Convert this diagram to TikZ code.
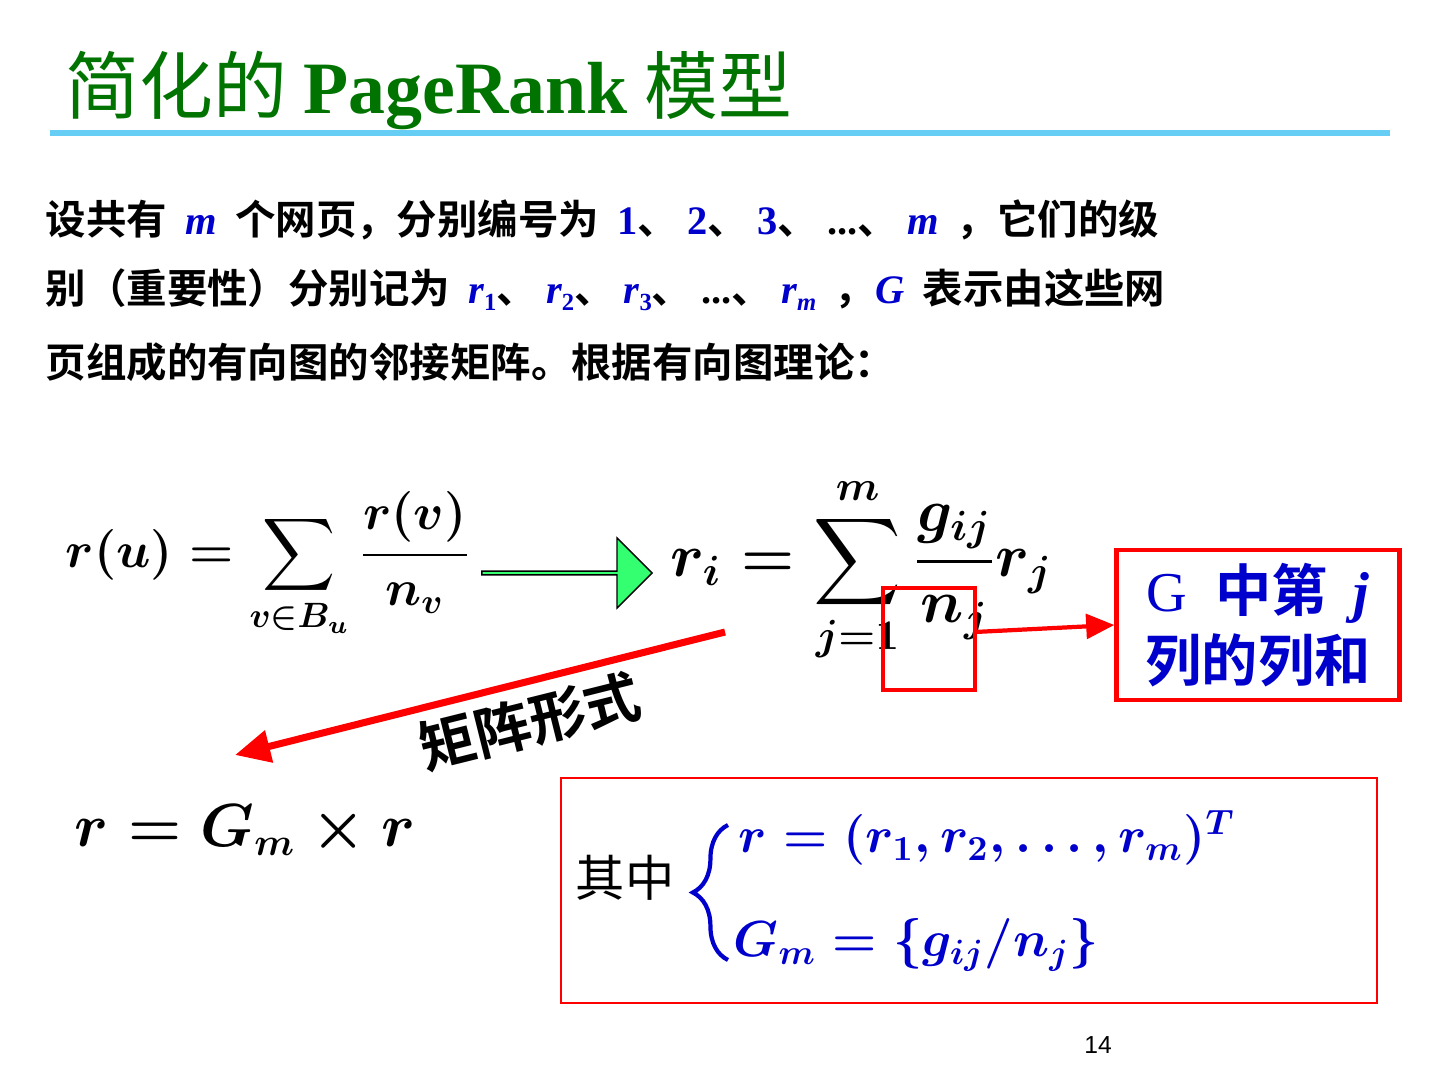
\documentclass[tikz,border=0pt]{standalone}
\usepackage{amsmath}
\usepackage{fontspec}
\setmainfont{Liberation Serif}
\newfontfamily\cjk{Noto Sans CJK SC}
\newfontfamily\cjkb{Noto Sans CJK SC Bold}
\newfontfamily\numfont{Liberation Sans}
\usetikzlibrary{arrows.meta,shapes.arrows,decorations.pathreplacing}
\newcommand{\bv}[1]{\textcolor{blue!80!black}{\rmfamily\bfseries\itshape #1}}
\newcommand{\bn}[1]{\textcolor{blue!80!black}{\rmfamily\bfseries #1}}
\newcommand{\sub}[1]{\raisebox{-0.3ex}{\scriptsize #1}}
\tikzset{
  line/.style={anchor=west, inner sep=0, font=\fontsize{11.5}{14}\cjkb},
  redbox/.style={draw=red, line width=1.2pt},
  formula/.style={inner sep=0, font=\fontsize{14}{17}\selectfont\boldmath}
}
\begin{document}
\begin{tikzpicture}[x=0.01cm,y=-0.01cm]
    \useasboundingbox (0,0) rectangle (1440,1080);
    % title
    \node (title) [anchor=west, inner sep=0, text=green!45!black] at (65,90)
      {\fontsize{21}{25}\cjk 简化的 \textbf{\rmfamily PageRank} 模型};
    \draw [cyan!60, line width=1.5pt] (50,133) -- (1390,133);
    % text
    \node (l1) [line] at (45,220) {设共有 \ \bv{m} \ 个网页，分别编号为 \ \bn{1}、\ \bn{2}、\ \bn{3}、\ \textbf{\rmfamily...}、\ \bv{m} \ ，它们的级};
    \node (l2) [line] at (45,290) {别（重要性）分别记为 \ \bv{r}\sub{\bn{1}}、\ \bv{r}\sub{\bn{2}}、\ \bv{r}\sub{\bn{3}}、\ \textbf{\rmfamily...}、\ \bv{r}\sub{\bv{m}} \ ，\bv{G} \ 表示由这些网};
    \node (l3) [line] at (45,362) {页组成的有向图的邻接矩阵。根据有向图理论：};
    % formulas
    \node (f1) [formula, anchor=west] at (65,565) {$r(u)=\displaystyle\sum_{v\in B_u}\frac{r(v)}{n_v}$};
    \node (arr) [single arrow, draw=black, fill=green!70!cyan!80, minimum height=1.7cm,
      minimum width=0.7cm, single arrow head extend=0.12cm, inner sep=0] at (566,573) {};
    \node (f2) [formula, anchor=west, font=\fontsize{18}{22}\selectfont\boldmath] at (670,570)
      {$r_i=\displaystyle\sum_{j=1}^{m}\frac{g_{ij}}{n_j}r_j$};
    \draw [redbox] (883,588) rectangle (975,690);
    \coordinate (nj) at (975,632);
    \node (colsum) [redbox, minimum width=2.83cm, minimum height=1.5cm, align=center,
      text=blue!80!black, font=\fontsize{16}{20}\cjkb] at (1258,625)
      {\rmfamily G\ \ \cjkb 中第\ \ \bv{j}\\列的列和};
    \draw [red, line width=1.2pt, -{Triangle[length=8pt,width=7pt]}] (nj) -- (colsum.west);
    \coordinate (ms) at (725,632);
    \coordinate (me) at (235,755);
    \draw [red, line width=2pt, -{Triangle[length=10pt,width=9pt]}] (ms) -- (me);
    \node (mlabel) [rotate=14, inner sep=0, font=\fontsize{16}{20}\cjkb] at (530,722) {矩阵形式};
    \node (f3) [formula, font=\fontsize{16}{20}\selectfont\boldmath] at (245,830) {$r=G_m\times r$};
    % where box
    \draw [redbox, line width=0.8pt] (561,778) rectangle (1377,1003);
    \node (qz) [inner sep=0, font=\fontsize{14}{17}\cjk] at (625,878) {其中};
    \draw [blue!80!black, line width=1.2pt, decorate, decoration={brace, amplitude=10pt}]
      (728,960) -- (728,825);
    \node (d1) [formula, anchor=west, text=blue!80!black] at (738,838) {$r=(r_1,r_2,\ldots,r_m)^T$};
    \node (d2) [formula, anchor=west, text=blue!80!black] at (733,945) {$G_m=\{g_{ij}/n_j\}$};
    \node (pg) [inner sep=0, font=\fontsize{7}{8}\numfont] at (1098,1045) {14};
\end{tikzpicture}
\end{document}
